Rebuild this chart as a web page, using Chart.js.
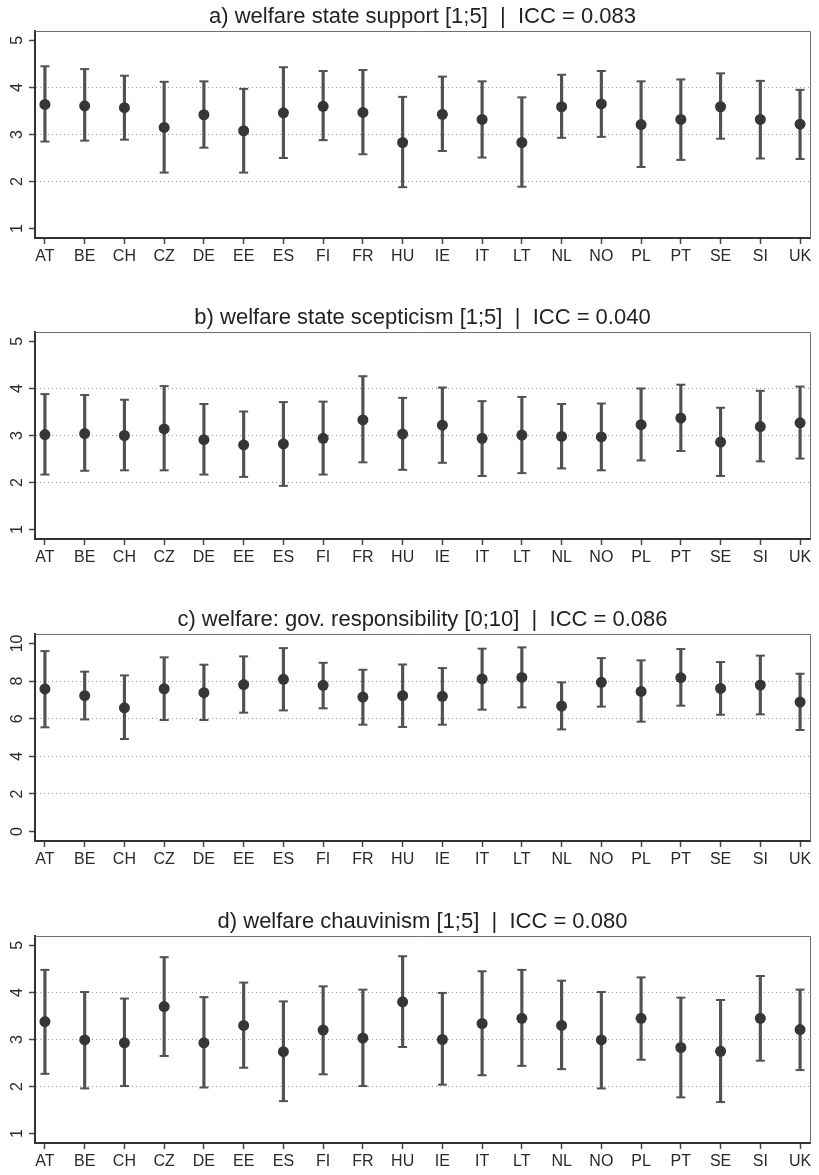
<!DOCTYPE html>
<html>
<head>
<meta charset="utf-8">
<script src="https://cdn.jsdelivr.net/npm/chart.js@4.4.1/dist/chart.umd.min.js"></script>
<style>
  body { margin: 0; background: #fff; }
  #figure { position: relative; width: 819px; height: 1175px; background: #fff; }
  .panel { position: absolute; left: 0; width: 819px; height: 270px; }
</style>
</head>
<body>
<div id="figure">
  <div class="panel" style="top:0px"><canvas id="panel-a" width="819" height="270"></canvas></div>
  <div class="panel" style="top:301px"><canvas id="panel-b" width="819" height="270"></canvas></div>
  <div class="panel" style="top:603px"><canvas id="panel-c" width="819" height="270"></canvas></div>
  <div class="panel" style="top:905px"><canvas id="panel-d" width="819" height="270"></canvas></div>
</div>
<script>
const countries = ['AT', 'BE', 'CH', 'CZ', 'DE', 'EE', 'ES', 'FI', 'FR', 'HU',
  'IE', 'IT', 'LT', 'NL', 'NO', 'PL', 'PT', 'SE', 'SI', 'UK'];

// a) welfare state support
const supportMean = [3.64, 3.61, 3.57, 3.15, 3.42, 3.08, 3.46, 3.60, 3.47, 2.83, 3.43, 3.32, 2.83, 3.59, 3.65, 3.21, 3.32, 3.59, 3.32, 3.22];
const supportLow = [2.85, 2.87, 2.89, 2.19, 2.72, 2.19, 2.50, 2.88, 2.58, 1.88, 2.65, 2.51, 1.89, 2.93, 2.95, 2.31, 2.46, 2.91, 2.49, 2.48];
const supportHigh = [4.45, 4.39, 4.25, 4.12, 4.13, 3.97, 4.43, 4.35, 4.37, 3.80, 4.23, 4.13, 3.79, 4.27, 4.35, 4.13, 4.17, 4.30, 4.14, 3.95];

// b) welfare state scepticism
const scepticismMean = [3.02, 3.04, 3.00, 3.14, 2.91, 2.80, 2.82, 2.94, 3.33, 3.03, 3.22, 2.94, 3.01, 2.98, 2.97, 3.23, 3.37, 2.86, 3.19, 3.27];
const scepticismLow = [2.17, 2.25, 2.26, 2.26, 2.17, 2.12, 1.93, 2.17, 2.43, 2.27, 2.42, 2.14, 2.20, 2.30, 2.26, 2.47, 2.67, 2.14, 2.45, 2.51];
const scepticismHigh = [3.88, 3.86, 3.76, 4.05, 3.67, 3.51, 3.71, 3.72, 4.26, 3.80, 4.02, 3.73, 3.82, 3.67, 3.68, 4.00, 4.08, 3.59, 3.95, 4.04];

// c) welfare: gov. responsibility
const responsibilityMean = [7.58, 7.22, 6.58, 7.59, 7.38, 7.81, 8.09, 7.77, 7.15, 7.22, 7.19, 8.11, 8.19, 6.67, 7.93, 7.45, 8.18, 7.61, 7.79, 6.88];
const responsibilityLow = [5.54, 5.96, 4.92, 5.93, 5.93, 6.32, 6.44, 6.55, 5.68, 5.56, 5.68, 6.48, 6.60, 5.43, 6.64, 5.84, 6.69, 6.21, 6.23, 5.40];
const responsibilityHigh = [9.59, 8.50, 8.30, 9.26, 8.87, 9.31, 9.75, 8.97, 8.60, 8.88, 8.69, 9.72, 9.79, 7.93, 9.22, 9.10, 9.70, 9.01, 9.35, 8.39];

// d) welfare chauvinism
const chauvinismMean = [3.38, 2.99, 2.93, 3.70, 2.93, 3.30, 2.74, 3.20, 3.03, 3.80, 3.00, 3.34, 3.45, 3.30, 2.99, 3.45, 2.83, 2.75, 3.45, 3.21];
const chauvinismLow = [2.27, 1.96, 2.01, 2.65, 1.98, 2.40, 1.69, 2.26, 2.01, 2.84, 2.04, 2.24, 2.44, 2.37, 1.96, 2.57, 1.77, 1.67, 2.55, 2.35];
const chauvinismHigh = [4.48, 4.01, 3.87, 4.75, 3.90, 4.21, 3.81, 4.13, 4.06, 4.77, 3.99, 4.45, 4.48, 4.25, 4.01, 4.32, 3.89, 3.84, 4.35, 4.06];

const fontFamily = '"Liberation Sans", Arial, Helvetica, sans-serif';
Chart.defaults.font.family = fontFamily;

/**
 * plugin drawing the panel title, the rotated y labels and the top/right box sides
 */
const panelDecor = {
  id: 'panelDecor',
  afterDraw: (chart, args, opts) => {
    const { ctx, chartArea } = chart;
    const yScale = chart.scales.y;
    ctx.save();

    // top and right side of the box
    ctx.strokeStyle = '#6e6e6e';
    ctx.lineWidth = 1;
    ctx.beginPath();
    ctx.moveTo(chartArea.left, chartArea.top + 0.5);
    ctx.lineTo(chartArea.right + 0.5, chartArea.top + 0.5);
    ctx.lineTo(chartArea.right + 0.5, chartArea.bottom);
    ctx.stroke();

    // title
    ctx.fillStyle = '#222';
    ctx.font = `22px ${fontFamily}`;
    ctx.textAlign = 'center';
    ctx.textBaseline = 'alphabetic';
    ctx.fillText(opts.text, (chartArea.left + chartArea.right) / 2, chartArea.top - 8);

    // y tick labels, parallel to the axis
    ctx.fillStyle = '#2a2a2a';
    ctx.font = `16px ${fontFamily}`;
    yScale.ticks.forEach(tick => {
      ctx.save();
      ctx.translate(22, yScale.getPixelForValue(tick.value));
      ctx.rotate(-Math.PI / 2);
      ctx.fillText(String(tick.value), 0, 0);
      ctx.restore();
    });

    ctx.restore();
  }
};

/**
 * function to render one panel: mean points with error bars per country
 * @param {string} canvasId the id of the canvas
 * @param {string} title the panel title
 * @param {array} means the country means
 * @param {array} lows the lower ends of the bars
 * @param {array} highs the upper ends of the bars
 * @param {object} yAxis min, max and step of the y axis
 */
const renderPanel = (canvasId, title, means, lows, highs, yAxis) => {
  const canvas = document.getElementById(canvasId).getContext('2d');
  const xs = countries.map((c, i) => i + 1);

  const whiskers = {
    type: 'bar',
    data: xs.map((x, i) => ({ x, y: [lows[i], highs[i]] })),
    backgroundColor: '#525252',
    borderWidth: 0,
    barThickness: 2.5,
    order: 2
  };

  const caps = {
    type: 'line',
    data: xs.map((x, i) => ({ x, y: lows[i] })).concat(xs.map((x, i) => ({ x, y: highs[i] }))),
    showLine: false,
    pointStyle: 'line',
    pointRadius: 4.5,
    pointBorderColor: '#525252',
    pointBorderWidth: 2,
    order: 1
  };

  const points = {
    type: 'line',
    data: xs.map((x, i) => ({ x, y: means[i] })),
    showLine: false,
    pointStyle: 'circle',
    pointRadius: 5.5,
    pointBackgroundColor: '#363636',
    pointBorderWidth: 0,
    order: 0
  };

  new Chart(canvas, {
    type: 'bar',
    data: { datasets: [whiskers, caps, points] },
    plugins: [panelDecor],
    options: {
      responsive: false,
      animation: false,
      events: [],
      layout: { padding: { top: 31, right: 9, left: 0, bottom: 0 } },
      plugins: {
        legend: { display: false },
        tooltip: { enabled: false },
        panelDecor: { text: title }
      },
      scales: {
        x: {
          type: 'linear',
          min: 0.75,
          max: 20.25,
          offset: false,
          afterFit: scale => { scale.height = 32; },
          grid: { offset: false, drawOnChartArea: false, drawTicks: true, tickLength: 6, tickColor: '#444', tickWidth: 1.5 },
          border: { color: '#333', width: 2 },
          ticks: {
            stepSize: 1,
            includeBounds: false,
            autoSkip: false,
            maxRotation: 0,
            padding: 3,
            color: '#2a2a2a',
            font: { size: 16 },
            callback: v => countries[v - 1]
          }
        },
        y: {
          type: 'linear',
          min: yAxis.min,
          max: yAxis.max,
          afterFit: scale => { scale.width = 35; },
          grid: {
            color: ctx => (ctx.tick && ctx.tick.value > yAxis.min + yAxis.step / 2 && ctx.tick.value < yAxis.max - yAxis.step / 2 ? '#9a9a9a' : 'rgba(0,0,0,0)'),
            lineWidth: 1,
            tickColor: '#444',
            tickLength: 6,
            tickWidth: 1.5
          },
          border: { color: '#333', width: 2, dash: [1, 3] },
          ticks: { stepSize: yAxis.step, includeBounds: false, display: false }
        }
      }
    }
  });
};

renderPanel('panel-a', 'a) welfare state support [1;5]  |  ICC = 0.083',
  supportMean, supportLow, supportHigh, { min: 0.8, max: 5.2, step: 1 });
renderPanel('panel-b', 'b) welfare state scepticism [1;5]  |  ICC = 0.040',
  scepticismMean, scepticismLow, scepticismHigh, { min: 0.8, max: 5.2, step: 1 });
renderPanel('panel-c', 'c) welfare: gov. responsibility [0;10]  |  ICC = 0.086',
  responsibilityMean, responsibilityLow, responsibilityHigh, { min: -0.5, max: 10.5, step: 2 });
renderPanel('panel-d', 'd) welfare chauvinism [1;5]  |  ICC = 0.080',
  chauvinismMean, chauvinismLow, chauvinismHigh, { min: 0.8, max: 5.2, step: 1 });
</script>
</body>
</html>
